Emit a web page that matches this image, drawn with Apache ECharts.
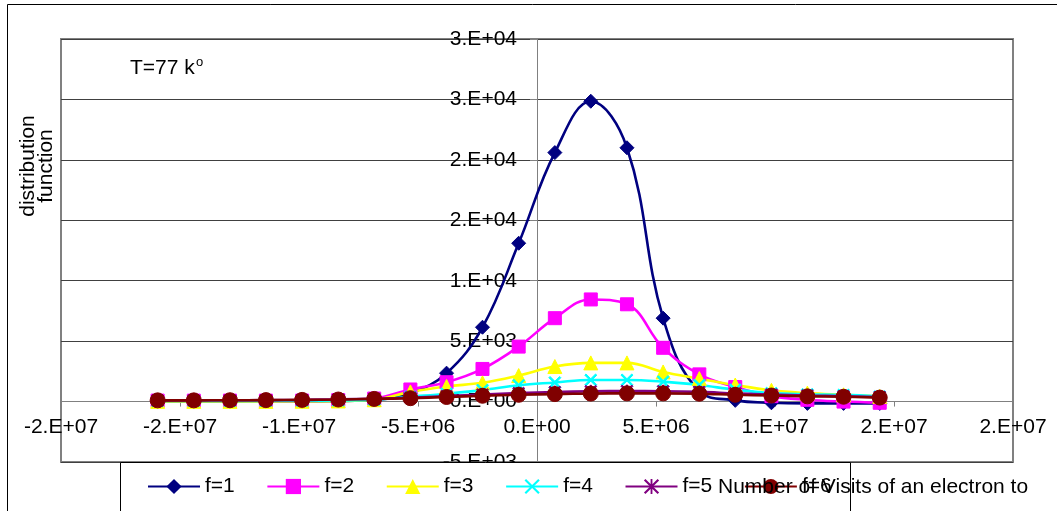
<!DOCTYPE html>
<html>
<head>
<meta charset="utf-8">
<title>distribution function, T=77</title>
<script src="https://cdn.jsdelivr.net/npm/echarts@6.0.0/dist/echarts.min.js"></script>
<style>
  html, body { margin: 0; padding: 0; background: #fff; }
  #chart { width: 1057px; height: 511px; }
</style>
</head>
<body>
<div id="chart"></div>
<script>
// x positions of the points
var xValues = [-1.594e7, -1.442e7, -1.290e7, -1.139e7, -9.87e6, -8.35e6, -6.84e6,
  -5.32e6, -3.80e6, -2.29e6, -7.7e5, 7.5e5, 2.26e6, 3.78e6, 5.30e6, 6.82e6,
  8.33e6, 9.85e6, 1.136e7, 1.288e7, 1.440e7]

var seriesNames = ['f=1', 'f=2', 'f=3', 'f=4', 'f=5', 'f=6']

var f1 = [20, 20, 20, 30, 30, 50, 150, 700, 2350, 6150, 13100, 20600, 24850, 21000, 6900, 850, 100, -100, -150, -150, -150]
var f2 = [80, 80, 80, 80, 80, 120, 250, 1000, 1600, 2700, 4550, 6900, 8450, 8050, 4450, 2250, 1200, 450, 150, 0, -100]
var f3 = [20, 20, 20, 20, 30, 50, 150, 800, 1250, 1550, 2150, 2900, 3200, 3200, 2450, 1900, 1370, 930, 700, 560, 430]
var f4 = [50, 50, 50, 60, 70, 90, 150, 400, 650, 950, 1350, 1580, 1790, 1790, 1650, 1370, 980, 700, 600, 550, 420]
var f5 = [100, 100, 110, 120, 140, 180, 240, 320, 450, 580, 700, 790, 850, 870, 860, 800, 680, 580, 500, 440, 380]
var f6 = [100, 100, 110, 120, 140, 170, 220, 280, 380, 480, 560, 620, 660, 680, 680, 650, 560, 500, 430, 400, 330]

var xMin = -2e7
var xMax = 2e7
var yMin = -5000
var yMax = 30000

var FONT = 'Liberation Sans, Arial, sans-serif'
var W = 1057
var H = 511
var gridBox = { left: 61, right: 44, top: 39, bottom: 49 }

// the axes cross at zero, inside the plot: push them in from the plot edges
var plotW = W - gridBox.left - gridBox.right
var plotH = H - gridBox.top - gridBox.bottom
var yAxisOffset = -plotW * (0 - xMin) / (xMax - xMin)
var xAxisOffset = -plotH * (0 - yMin) / (yMax - yMin)

// excel style "0.E+00" labels
function fmtE (v) {
  var parts = Math.abs(v).toExponential(0).split('e')
  var exp = parseInt(parts[1], 10)
  return (v < 0 ? '-' : '') + parts[0] + '.E' + (exp < 0 ? '-' : '+') + String(Math.abs(exp)).padStart(2, '0')
}

function pairs (ys) {
  return xValues.map(function (x, i) { return [x, ys[i]] })
}

var crossPath = 'path://M1,0 L5,4 L9,0 L10,1 L6,5 L10,9 L9,10 L5,6 L1,10 L0,9 L4,5 L0,1 Z'
var starPath = 'path://M1,0 L5,4 L9,0 L10,1 L6,5 L10,9 L9,10 L5,6 L1,10 L0,9 L4,5 L0,1 Z M4.4,0 L5.6,0 L5.6,10 L4.4,10 Z'

var styles = [
  { data: f1, color: '#000080', symbol: 'diamond', size: 14 },
  { data: f2, color: '#ff00ff', symbol: 'rect', size: 13 },
  { data: f3, color: '#ffff00', symbol: 'triangle', size: 14 },
  { data: f4, color: '#00ffff', symbol: crossPath, size: 12 },
  { data: f5, color: '#800080', symbol: starPath, size: 12 },
  { data: f6, color: '#800000', symbol: 'circle', size: 15 }
]

var series = styles.map(function (s, i) {
  return {
    name: seriesNames[i],
    type: 'line',
    data: pairs(s.data),
    smooth: 0.4,
    symbol: s.symbol,
    symbolSize: s.size,
    showAllSymbol: true,
    lineStyle: { color: s.color, width: 2.6 },
    itemStyle: { color: s.color, borderColor: s.color },
    emphasis: { disabled: true }
  }
})

var option = {
  animation: false,
  backgroundColor: '#fff',
  grid: {
    left: gridBox.left,
    right: gridBox.right,
    top: gridBox.top,
    bottom: gridBox.bottom,
    containLabel: false,
    outerBoundsMode: 'none',
    show: true,
    borderColor: '#808080',
    borderWidth: 2
  },
  xAxis: {
    type: 'value',
    min: xMin,
    max: xMax,
    interval: 5e6,
    position: 'bottom',
    offset: xAxisOffset,
    axisLine: { show: true, onZero: false, lineStyle: { color: '#808080', width: 1 } },
    axisTick: { show: true, length: 5, lineStyle: { color: '#808080' } },
    splitLine: { show: false },
    axisLabel: { formatter: fmtE, margin: 15, fontSize: 21, fontFamily: FONT, color: '#000' }
  },
  yAxis: {
    type: 'value',
    min: yMin,
    max: yMax,
    interval: 5000,
    position: 'left',
    offset: yAxisOffset,
    axisLine: { show: true, onZero: false, lineStyle: { color: '#808080', width: 1 } },
    axisTick: { show: true, length: 7, lineStyle: { color: '#808080' } },
    splitLine: { show: true, lineStyle: { color: '#404040', width: 1 } },
    axisLabel: { formatter: fmtE, margin: 20, fontSize: 21, fontFamily: FONT, color: '#000' }
  },
  legend: {
    data: seriesNames,
    left: 147,
    top: 476,
    padding: 0,
    itemWidth: 52,
    itemHeight: 19,
    itemGap: 31.6,
    z: 5,
    textStyle: { fontSize: 21, fontFamily: FONT, color: '#000' }
  },
  graphic: [
    {
      type: 'rect',
      z: -10,
      shape: { x: 7.5, y: 4.5, width: 1200, height: 700 },
      style: { fill: 'none', stroke: '#000', lineWidth: 1 }
    },
    {
      type: 'rect',
      z: 3,
      shape: { x: 120.5, y: 462.5, width: 730, height: 100 },
      style: { fill: '#fff', stroke: '#000', lineWidth: 1 }
    },
    {
      type: 'text',
      z: 10,
      x: 130,
      y: 68,
      style: { text: 'T=77 k', font: '21px ' + FONT, fill: '#000', align: 'left', verticalAlign: 'middle', textAlign: 'left', textVerticalAlign: 'middle' }
    },
    {
      type: 'text',
      z: 10,
      x: 196,
      y: 62,
      style: { text: 'o', font: '13px ' + FONT, fill: '#000', align: 'left', verticalAlign: 'middle', textAlign: 'left', textVerticalAlign: 'middle' }
    },
    {
      type: 'text',
      z: 10,
      x: 37,
      y: 166,
      rotation: Math.PI / 2,
      style: { text: 'distribution\nfunction', font: '21px ' + FONT, lineHeight: 18, fill: '#000', align: 'center', verticalAlign: 'middle', textAlign: 'center', textVerticalAlign: 'middle' }
    },
    {
      type: 'text',
      z: 10,
      x: 718,
      y: 487,
      style: { text: 'Number of Visits of an electron to', font: '21px ' + FONT, fill: '#000', align: 'left', verticalAlign: 'middle', textAlign: 'left', textVerticalAlign: 'middle' }
    }
  ],
  series: series
}

var myChart = echarts.init(document.getElementById('chart'))
myChart.setOption(option)
</script>
</body>
</html>
